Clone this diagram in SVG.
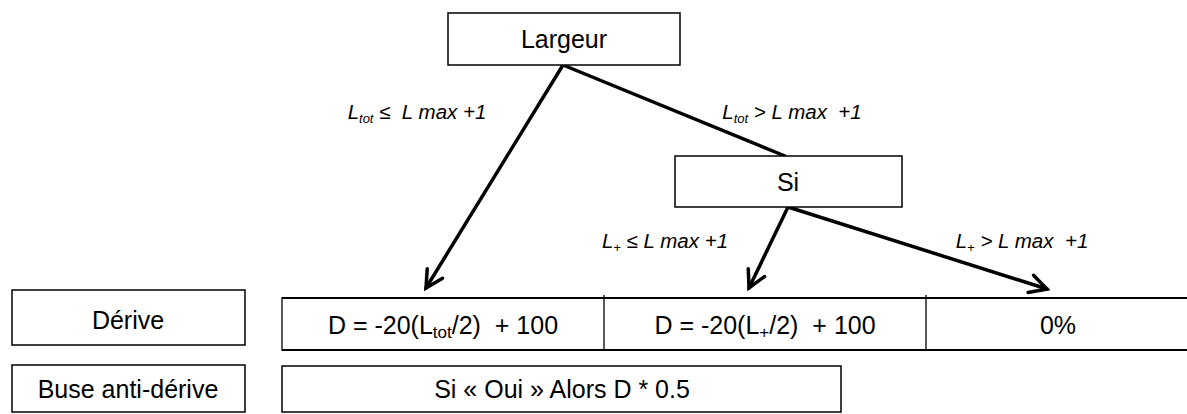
<svg xmlns="http://www.w3.org/2000/svg" width="1187" height="414" viewBox="0 0 1187 414">
<style>
.box{fill:#fff;stroke:#000;stroke-width:1.5}
.t{font-family:"Liberation Sans",Arial,sans-serif;font-size:25px;fill:#000;text-anchor:middle;white-space:pre}
.lbl{font-family:"Liberation Sans",Arial,sans-serif;font-size:20.5px;font-style:italic;fill:#000;text-anchor:middle;white-space:pre}
.sub{font-size:13px}
.fsub{font-size:17px}
.conn{stroke:#000;stroke-width:3.5;fill:none;stroke-linecap:round}
.rule{stroke:#000;stroke-width:2.2}
.thin{stroke:#000;stroke-width:1.3}
</style>
<defs>
<marker id="arr" markerUnits="userSpaceOnUse" markerWidth="24" markerHeight="24" viewBox="0 0 24 24" refX="20" refY="12" orient="auto">
<path d="M3,3 L20,12 L3,21" fill="none" stroke="#000" stroke-width="3.5" stroke-linecap="round" stroke-linejoin="miter"/>
</marker>
</defs>
<g id="connectors">
<line class="conn" x1="563" y1="65" x2="785" y2="156"/>
<line class="conn" x1="563" y1="65" x2="426" y2="288" marker-end="url(#arr)"/>
<line class="conn" x1="788" y1="207" x2="749" y2="288" marker-end="url(#arr)"/>
<line class="conn" x1="788" y1="207" x2="1047" y2="289" marker-end="url(#arr)"/>
</g>
<g id="labels">
<text class="lbl" x="417" y="119">L<tspan class="sub" dy="4">tot</tspan><tspan dy="-4"> ≤  L max +1</tspan></text>
<text class="lbl" x="792" y="119">L<tspan class="sub" dy="4">tot</tspan><tspan dy="-4"> &gt; L max  +1</tspan></text>
<text class="lbl" x="665" y="248">L<tspan class="sub" dy="4">+</tspan><tspan dy="-4"> ≤ L max +1</tspan></text>
<text class="lbl" x="1022" y="248">L<tspan class="sub" dy="4">+</tspan><tspan dy="-4"> &gt; L max  +1</tspan></text>
</g>
<g id="largeur">
<rect class="box" x="448" y="13" width="232" height="52"/>
<text class="t" x="564" y="48">Largeur</text>
</g>
<g id="si">
<rect class="box" x="675" y="156" width="227" height="51"/>
<text class="t" x="788" y="191">Si</text>
</g>
<g id="derive">
<rect class="box" x="12" y="290" width="233" height="55"/>
<text class="t" x="128" y="329">Dérive</text>
</g>
<g id="buse">
<rect class="box" x="12" y="365" width="233" height="47"/>
<text class="t" x="128" y="398">Buse anti-dérive</text>
</g>
<g id="derive-row">
<line class="rule" x1="282" y1="298" x2="1187" y2="298"/>
<line class="rule" x1="282" y1="350" x2="1187" y2="350"/>
<line class="thin" x1="282" y1="297" x2="282" y2="351"/>
<line class="thin" x1="604" y1="295" x2="604" y2="351"/>
<line class="thin" x1="926" y1="295" x2="926" y2="351"/>
<text class="t" x="443" y="334">D = -20(L<tspan class="fsub" dy="4">tot</tspan><tspan dy="-4">/2)  + 100</tspan></text>
<text class="t" x="765" y="334">D = -20(L<tspan class="fsub" dy="4">+</tspan><tspan dy="-4">/2)  + 100</tspan></text>
<text class="t" x="1058" y="334">0%</text>
</g>
<g id="buse-row">
<rect class="box" x="282" y="366" width="559" height="46"/>
<text class="t" x="562" y="398">Si « Oui » Alors D * 0.5</text>
</g>
</svg>
